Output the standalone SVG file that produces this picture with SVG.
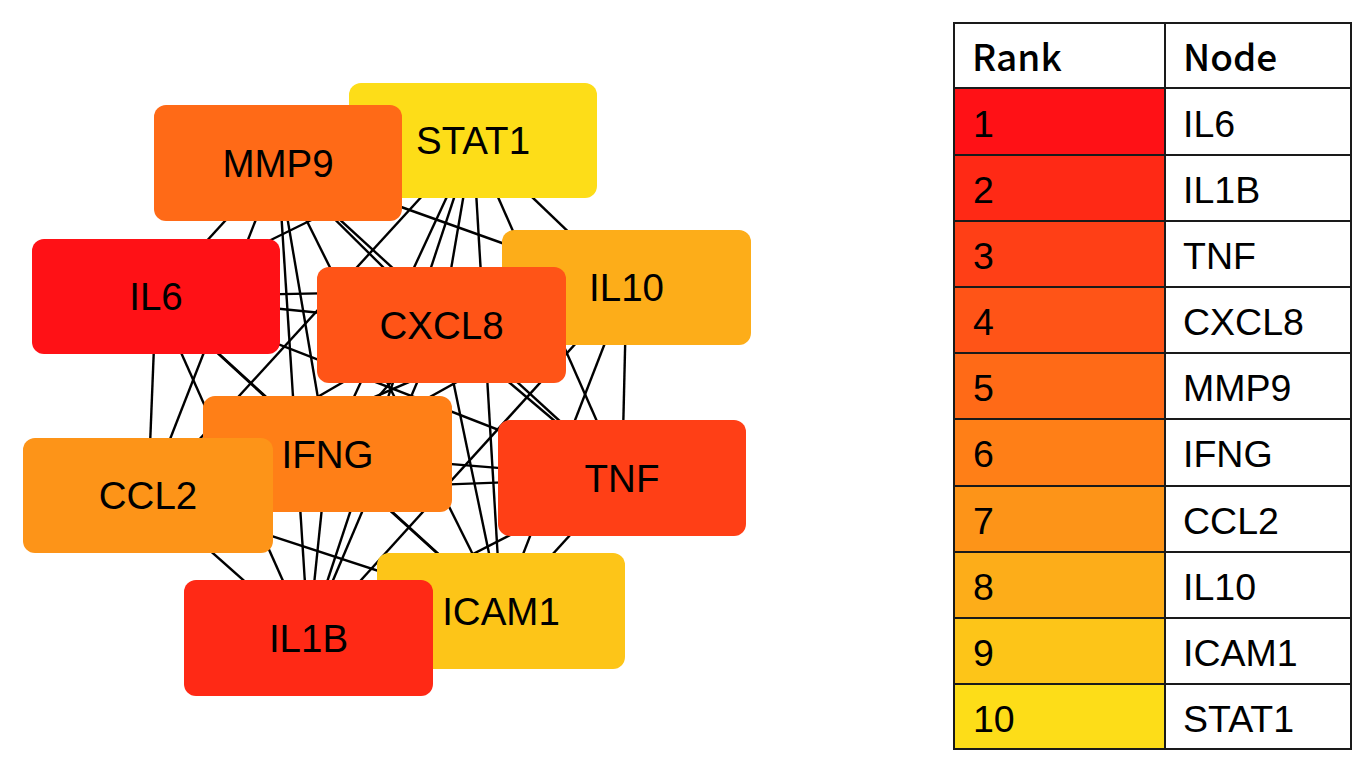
<svg xmlns="http://www.w3.org/2000/svg" width="1364" height="759" viewBox="0 0 1364 759">
<style>
.edge{stroke:#000;stroke-width:2.4;fill:none}
.node rect{rx:12;ry:12}
.lbl{font-family:"Liberation Sans",Arial,sans-serif;font-size:38.5px;fill:#000;text-anchor:middle}
.cell{font-family:"Liberation Sans",Arial,sans-serif;font-size:37.5px;fill:#000}
.hdr{font-family:"Noto Sans CJK SC","Noto Sans",sans-serif;font-weight:500;font-size:37px;fill:#000}
.grid{stroke:#1a1a1a;stroke-width:2;fill:none}
.c1{fill:#FF1116}.c2{fill:#FF2915}.c3{fill:#FF3F16}.c4{fill:#FF5417}.c5{fill:#FF6A17}
.c6{fill:#FF7F17}.c7{fill:#FD9418}.c8{fill:#FDAD19}.c9{fill:#FDC518}.c10{fill:#FDDD18}
</style>
<rect width="1364" height="759" fill="#fff"/>
<g id="edges">
<line class="edge" x1="278" y1="163" x2="156" y2="296.5"/>
<line class="edge" x1="278" y1="163" x2="473" y2="140.5"/>
<line class="edge" x1="278" y1="163" x2="626.5" y2="287.5"/>
<line class="edge" x1="278" y1="163" x2="441.5" y2="325"/>
<line class="edge" x1="278" y1="163" x2="327.5" y2="454"/>
<line class="edge" x1="278" y1="163" x2="148" y2="495.5"/>
<line class="edge" x1="278" y1="163" x2="622" y2="478"/>
<line class="edge" x1="278" y1="163" x2="501" y2="611"/>
<line class="edge" x1="278" y1="163" x2="308.5" y2="638"/>
<line class="edge" x1="156" y1="296.5" x2="473" y2="140.5"/>
<line class="edge" x1="156" y1="296.5" x2="626.5" y2="287.5"/>
<line class="edge" x1="156" y1="296.5" x2="441.5" y2="325"/>
<line class="edge" x1="156" y1="296.5" x2="327.5" y2="454"/>
<line class="edge" x1="156" y1="296.5" x2="148" y2="495.5"/>
<line class="edge" x1="156" y1="296.5" x2="622" y2="478"/>
<line class="edge" x1="156" y1="296.5" x2="501" y2="611"/>
<line class="edge" x1="156" y1="296.5" x2="308.5" y2="638"/>
<line class="edge" x1="473" y1="140.5" x2="626.5" y2="287.5"/>
<line class="edge" x1="473" y1="140.5" x2="441.5" y2="325"/>
<line class="edge" x1="473" y1="140.5" x2="327.5" y2="454"/>
<line class="edge" x1="473" y1="140.5" x2="148" y2="495.5"/>
<line class="edge" x1="473" y1="140.5" x2="622" y2="478"/>
<line class="edge" x1="473" y1="140.5" x2="501" y2="611"/>
<line class="edge" x1="473" y1="140.5" x2="308.5" y2="638"/>
<line class="edge" x1="626.5" y1="287.5" x2="441.5" y2="325"/>
<line class="edge" x1="626.5" y1="287.5" x2="327.5" y2="454"/>
<line class="edge" x1="626.5" y1="287.5" x2="148" y2="495.5"/>
<line class="edge" x1="626.5" y1="287.5" x2="622" y2="478"/>
<line class="edge" x1="626.5" y1="287.5" x2="501" y2="611"/>
<line class="edge" x1="626.5" y1="287.5" x2="308.5" y2="638"/>
<line class="edge" x1="441.5" y1="325" x2="327.5" y2="454"/>
<line class="edge" x1="441.5" y1="325" x2="148" y2="495.5"/>
<line class="edge" x1="441.5" y1="325" x2="622" y2="478"/>
<line class="edge" x1="441.5" y1="325" x2="501" y2="611"/>
<line class="edge" x1="441.5" y1="325" x2="308.5" y2="638"/>
<line class="edge" x1="327.5" y1="454" x2="148" y2="495.5"/>
<line class="edge" x1="327.5" y1="454" x2="622" y2="478"/>
<line class="edge" x1="327.5" y1="454" x2="501" y2="611"/>
<line class="edge" x1="327.5" y1="454" x2="308.5" y2="638"/>
<line class="edge" x1="148" y1="495.5" x2="622" y2="478"/>
<line class="edge" x1="148" y1="495.5" x2="501" y2="611"/>
<line class="edge" x1="148" y1="495.5" x2="308.5" y2="638"/>
<line class="edge" x1="622" y1="478" x2="501" y2="611"/>
<line class="edge" x1="622" y1="478" x2="308.5" y2="638"/>
<line class="edge" x1="501" y1="611" x2="308.5" y2="638"/>
</g>
<g id="node-STAT1" class="node"><rect class="c10" x="349" y="83" width="248" height="115"/><text class="lbl" x="473" y="154">STAT1</text></g>
<g id="node-MMP9" class="node"><rect class="c5" x="154" y="105" width="248" height="116"/><text class="lbl" x="278" y="177">MMP9</text></g>
<g id="node-IL6" class="node"><rect class="c1" x="32" y="239" width="248" height="115"/><text class="lbl" x="156" y="310">IL6</text></g>
<g id="node-IL10" class="node"><rect class="c8" x="502" y="230" width="249" height="115"/><text class="lbl" x="626.5" y="301">IL10</text></g>
<g id="node-CXCL8" class="node"><rect class="c4" x="317" y="267" width="249" height="116"/><text class="lbl" x="441.5" y="339">CXCL8</text></g>
<g id="node-IFNG" class="node"><rect class="c6" x="203" y="396" width="249" height="116"/><text class="lbl" x="327.5" y="468">IFNG</text></g>
<g id="node-CCL2" class="node"><rect class="c7" x="23" y="438" width="250" height="115"/><text class="lbl" x="148" y="509">CCL2</text></g>
<g id="node-TNF" class="node"><rect class="c3" x="498" y="420" width="248" height="116"/><text class="lbl" x="622" y="492">TNF</text></g>
<g id="node-ICAM1" class="node"><rect class="c9" x="377" y="553" width="248" height="116"/><text class="lbl" x="501" y="625">ICAM1</text></g>
<g id="node-IL1B" class="node"><rect class="c2" x="184" y="580" width="249" height="116"/><text class="lbl" x="308.5" y="652">IL1B</text></g>
<g id="table">
<rect class="c1" x="954" y="88" width="211" height="67"/>
<rect class="c2" x="954" y="155" width="211" height="66"/>
<rect class="c3" x="954" y="221" width="211" height="66"/>
<rect class="c4" x="954" y="287" width="211" height="66"/>
<rect class="c5" x="954" y="353" width="211" height="66"/>
<rect class="c6" x="954" y="419" width="211" height="67"/>
<rect class="c7" x="954" y="486" width="211" height="66"/>
<rect class="c8" x="954" y="552" width="211" height="66"/>
<rect class="c9" x="954" y="618" width="211" height="66"/>
<rect class="c10" x="954" y="684" width="211" height="65"/>
<rect class="grid" x="954" y="23" width="397" height="726"/>
<line class="grid" x1="1165" y1="23" x2="1165" y2="749"/>
<line class="grid" x1="954" y1="88" x2="1351" y2="88"/>
<line class="grid" x1="954" y1="155" x2="1351" y2="155"/>
<line class="grid" x1="954" y1="221" x2="1351" y2="221"/>
<line class="grid" x1="954" y1="287" x2="1351" y2="287"/>
<line class="grid" x1="954" y1="353" x2="1351" y2="353"/>
<line class="grid" x1="954" y1="419" x2="1351" y2="419"/>
<line class="grid" x1="954" y1="486" x2="1351" y2="486"/>
<line class="grid" x1="954" y1="552" x2="1351" y2="552"/>
<line class="grid" x1="954" y1="618" x2="1351" y2="618"/>
<line class="grid" x1="954" y1="684" x2="1351" y2="684"/>
<text class="hdr" x="972" y="71">Rank</text>
<text class="hdr" x="1183" y="71">Node</text>
<text class="cell" x="973" y="137">1</text><text class="cell" x="1183" y="137">IL6</text>
<text class="cell" x="973" y="203">2</text><text class="cell" x="1183" y="203">IL1B</text>
<text class="cell" x="973" y="269">3</text><text class="cell" x="1183" y="269">TNF</text>
<text class="cell" x="973" y="335">4</text><text class="cell" x="1183" y="335">CXCL8</text>
<text class="cell" x="973" y="401">5</text><text class="cell" x="1183" y="401">MMP9</text>
<text class="cell" x="973" y="467">6</text><text class="cell" x="1183" y="467">IFNG</text>
<text class="cell" x="973" y="534">7</text><text class="cell" x="1183" y="534">CCL2</text>
<text class="cell" x="973" y="600">8</text><text class="cell" x="1183" y="600">IL10</text>
<text class="cell" x="973" y="666">9</text><text class="cell" x="1183" y="666">ICAM1</text>
<text class="cell" x="973" y="732">10</text><text class="cell" x="1183" y="732">STAT1</text>
</g>
</svg>
